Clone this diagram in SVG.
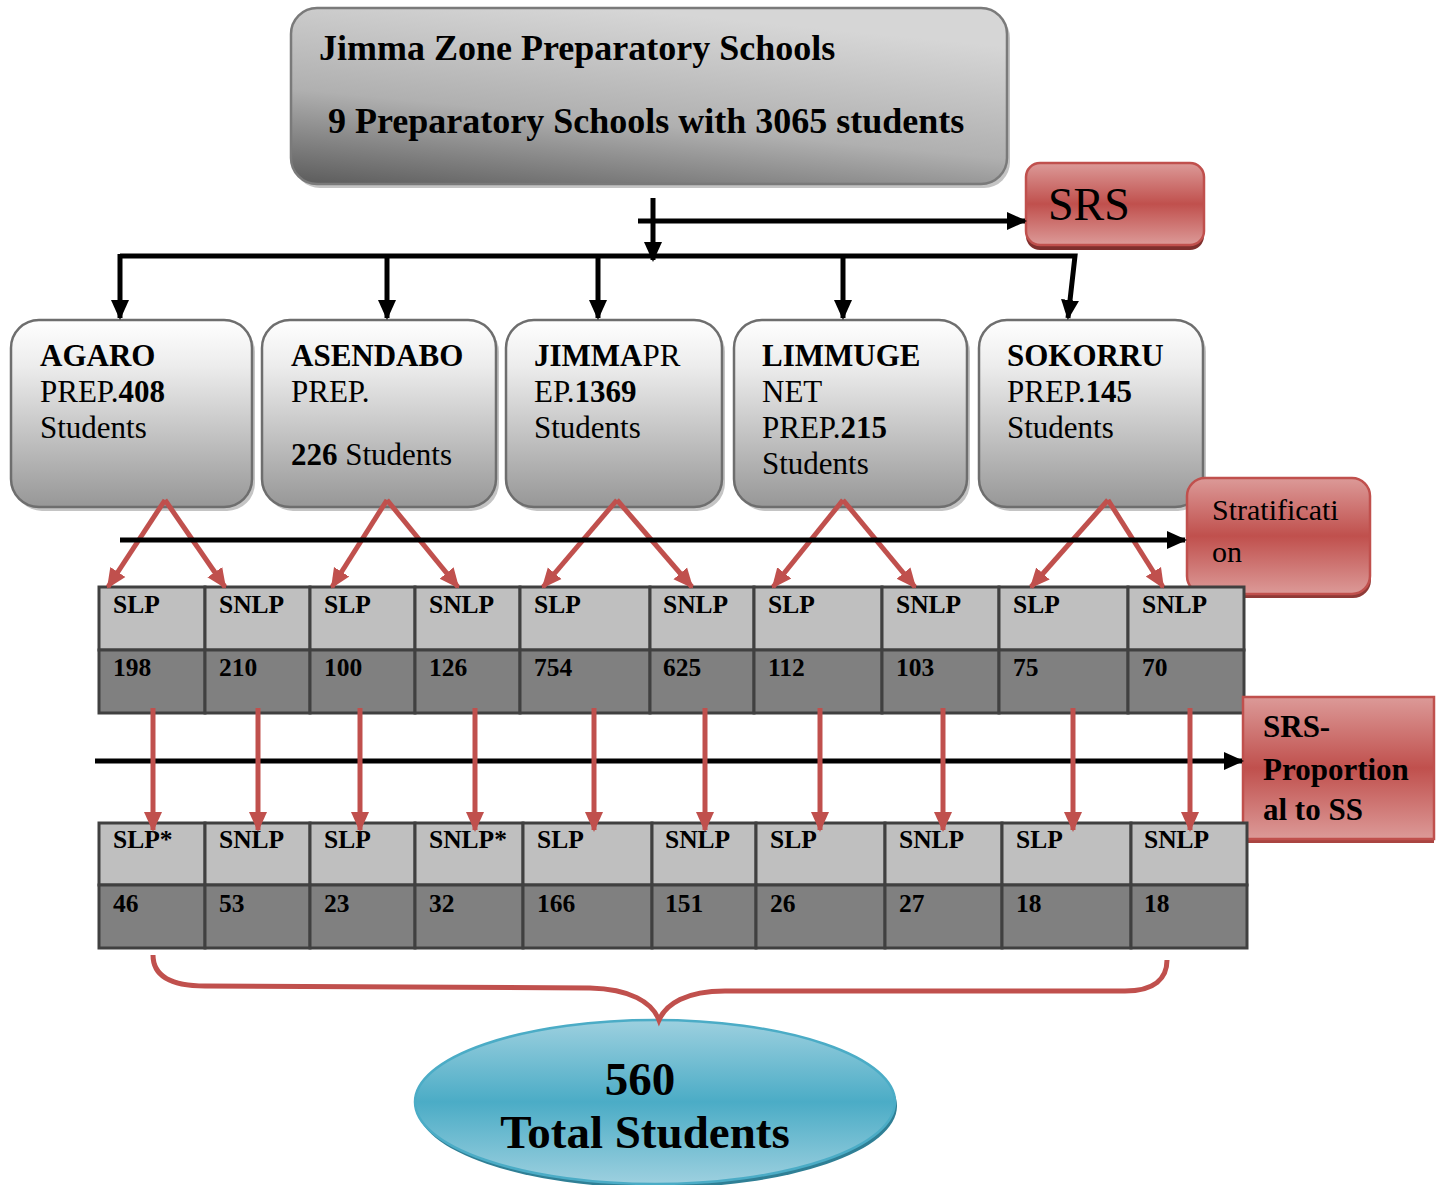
<svg xmlns="http://www.w3.org/2000/svg" width="1442" height="1185" viewBox="0 0 1442 1185">
<defs>
<linearGradient id="gTop" x1="0.05" y1="1" x2="0.45" y2="0">
<stop offset="0" stop-color="#5e5e5e"/>
<stop offset="0.45" stop-color="#b0b0b0"/>
<stop offset="1" stop-color="#d6d6d6"/>
</linearGradient>
<linearGradient id="gSchool" x1="0" y1="0" x2="0" y2="1">
<stop offset="0" stop-color="#ffffff"/>
<stop offset="0.25" stop-color="#ececec"/>
<stop offset="1" stop-color="#979797"/>
</linearGradient>
<linearGradient id="gRed" x1="0" y1="0" x2="0" y2="1">
<stop offset="0" stop-color="#dc9a98"/>
<stop offset="0.5" stop-color="#c0504d"/>
<stop offset="1" stop-color="#dc9a98"/>
</linearGradient>
<linearGradient id="gBlue" x1="0" y1="0" x2="0" y2="1">
<stop offset="0" stop-color="#9dd0df"/>
<stop offset="0.5" stop-color="#4bacc6"/>
<stop offset="1" stop-color="#9dd0df"/>
</linearGradient>
<marker id="aBlack" markerUnits="userSpaceOnUse" markerWidth="20" markerHeight="20" viewBox="0 0 20 20" refX="18" refY="10" orient="auto">
<path d="M0,1 L20,10 L0,19 Z" fill="#000"/>
</marker>
<marker id="aRed" markerUnits="userSpaceOnUse" markerWidth="20" markerHeight="20" viewBox="0 0 20 20" refX="18" refY="10" orient="auto">
<path d="M0,1 L20,10 L0,19 Z" fill="#c0504d"/>
</marker>
<style>
text { font-family: "Liberation Serif", "Times New Roman", serif; fill: #000; }
.b { font-weight: bold; }
.school { fill: url(#gSchool); stroke: #6e6e6e; stroke-width: 2.5; }
.shadowG { fill: #c4c4c4; }
.red { fill: url(#gRed); stroke: #c0504d; stroke-width: 2.5; }
.st { font-size: 31px; }
.blk { stroke: #000; stroke-width: 5; fill: none; }
.rd { stroke: #c0504d; stroke-width: 5; fill: none; }
.c1 { fill: #bfbfbf; stroke: #404040; stroke-width: 3; }
.c2 { fill: #808080; stroke: #404040; stroke-width: 3; }
.tl { font-size: 25.5px; font-weight: bold; }
</style>
</defs>
<rect width="1442" height="1185" fill="#ffffff"/>

<!-- Top node -->
<g id="top">
<rect x="294" y="12" width="716" height="176" rx="26" fill="#c4c4c4"/>
<rect x="291" y="8" width="716" height="176" rx="26" fill="url(#gTop)" stroke="#7a7a7a" stroke-width="2.5"/>
<text class="b" x="319" y="60" font-size="36">Jimma Zone Preparatory Schools</text>
<text class="b" x="328" y="133" font-size="36">9 Preparatory Schools with 3065 students</text>
</g>

<!-- SRS node -->
<g id="srs">
<rect x="1026" y="168" width="178" height="82" rx="14" fill="#7f2f2d"/>
<rect x="1026" y="163" width="178" height="82" rx="14" class="red"/>
<text x="1048" y="220" font-size="46">SRS</text>
</g>

<!-- School nodes -->
<g id="agaro">
<rect x="14" y="324" width="241" height="187" rx="28" class="shadowG"/>
<rect x="11" y="320" width="241" height="187" rx="28" class="school"/>
<text class="st" x="40" y="366"><tspan class="b">AGARO</tspan></text>
<text class="st" x="40" y="402">PREP.<tspan class="b">408</tspan></text>
<text class="st" x="40" y="438">Students</text>
</g>
<g id="asendabo">
<rect x="265" y="324" width="234" height="187" rx="28" class="shadowG"/>
<rect x="262" y="320" width="234" height="187" rx="28" class="school"/>
<text class="st" x="291" y="366"><tspan class="b">ASENDABO</tspan></text>
<text class="st" x="291" y="402">PREP.</text>
<text class="st" x="291" y="465"><tspan class="b">226</tspan> Students</text>
</g>
<g id="jimma">
<rect x="509" y="324" width="216" height="187" rx="28" class="shadowG"/>
<rect x="506" y="320" width="216" height="187" rx="28" class="school"/>
<text class="st" x="534" y="366"><tspan class="b">JIMMA</tspan>PR</text>
<text class="st" x="534" y="402">EP.<tspan class="b">1369</tspan></text>
<text class="st" x="534" y="438">Students</text>
</g>
<g id="limmu">
<rect x="737" y="324" width="233" height="187" rx="28" class="shadowG"/>
<rect x="734" y="320" width="233" height="187" rx="28" class="school"/>
<text class="st" x="762" y="366"><tspan class="b">LIMMUGE</tspan></text>
<text class="st" x="762" y="402">NET</text>
<text class="st" x="762" y="438">PREP.<tspan class="b">215</tspan></text>
<text class="st" x="762" y="474">Students</text>
</g>
<g id="sokorru">
<rect x="982" y="324" width="224" height="187" rx="28" class="shadowG"/>
<rect x="979" y="320" width="224" height="187" rx="28" class="school"/>
<text class="st" x="1007" y="366"><tspan class="b">SOKORRU</tspan></text>
<text class="st" x="1007" y="402">PREP.<tspan class="b">145</tspan></text>
<text class="st" x="1007" y="438">Students</text>
</g>

<!-- Stratification node -->
<g id="stratification">
<rect x="1188" y="482" width="183" height="116" rx="18" fill="#8f3a37"/>
<rect x="1187" y="478" width="183" height="116" rx="18" class="red"/>
<text x="1212" y="520" font-size="30">Stratificati</text>
<text x="1212" y="562" font-size="30">on</text>
</g>

<!-- Table 1 -->
<g id="table1">
<rect x="99" y="587" width="106" height="63" class="c1"/>
<rect x="205" y="587" width="105" height="63" class="c1"/>
<rect x="310" y="587" width="105" height="63" class="c1"/>
<rect x="415" y="587" width="105" height="63" class="c1"/>
<rect x="520" y="587" width="130" height="63" class="c1"/>
<rect x="650" y="587" width="104" height="63" class="c1"/>
<rect x="754" y="587" width="128" height="63" class="c1"/>
<rect x="882" y="587" width="117" height="63" class="c1"/>
<rect x="999" y="587" width="129" height="63" class="c1"/>
<rect x="1128" y="587" width="116" height="63" class="c1"/>
<rect x="99" y="650" width="106" height="63" class="c2"/>
<rect x="205" y="650" width="105" height="63" class="c2"/>
<rect x="310" y="650" width="105" height="63" class="c2"/>
<rect x="415" y="650" width="105" height="63" class="c2"/>
<rect x="520" y="650" width="130" height="63" class="c2"/>
<rect x="650" y="650" width="104" height="63" class="c2"/>
<rect x="754" y="650" width="128" height="63" class="c2"/>
<rect x="882" y="650" width="117" height="63" class="c2"/>
<rect x="999" y="650" width="129" height="63" class="c2"/>
<rect x="1128" y="650" width="116" height="63" class="c2"/>
<text class="tl" x="113" y="613">SLP</text>
<text class="tl" x="219" y="613">SNLP</text>
<text class="tl" x="324" y="613">SLP</text>
<text class="tl" x="429" y="613">SNLP</text>
<text class="tl" x="534" y="613">SLP</text>
<text class="tl" x="663" y="613">SNLP</text>
<text class="tl" x="768" y="613">SLP</text>
<text class="tl" x="896" y="613">SNLP</text>
<text class="tl" x="1013" y="613">SLP</text>
<text class="tl" x="1142" y="613">SNLP</text>
<text class="tl" x="113" y="676">198</text>
<text class="tl" x="219" y="676">210</text>
<text class="tl" x="324" y="676">100</text>
<text class="tl" x="429" y="676">126</text>
<text class="tl" x="534" y="676">754</text>
<text class="tl" x="663" y="676">625</text>
<text class="tl" x="768" y="676">112</text>
<text class="tl" x="896" y="676">103</text>
<text class="tl" x="1013" y="676">75</text>
<text class="tl" x="1142" y="676">70</text>
</g>

<!-- SRS-Proportion node -->
<g id="srsprop">
<rect x="1243" y="697" width="191" height="146" fill="#a94441"/>
<rect x="1243" y="697" width="191" height="142" class="red"/>
<text class="b" x="1263" y="737" font-size="31">SRS-</text>
<text class="b" x="1263" y="780" font-size="31">Proportion</text>
<text class="b" x="1263" y="820" font-size="31">al to SS</text>
</g>

<!-- Table 2 -->
<g id="table2">
<rect x="99" y="823" width="106" height="62" class="c1"/>
<rect x="205" y="823" width="105" height="62" class="c1"/>
<rect x="310" y="823" width="105" height="62" class="c1"/>
<rect x="415" y="823" width="108" height="62" class="c1"/>
<rect x="523" y="823" width="129" height="62" class="c1"/>
<rect x="652" y="823" width="104" height="62" class="c1"/>
<rect x="756" y="823" width="129" height="62" class="c1"/>
<rect x="885" y="823" width="117" height="62" class="c1"/>
<rect x="1002" y="823" width="129" height="62" class="c1"/>
<rect x="1131" y="823" width="116" height="62" class="c1"/>
<rect x="99" y="885" width="106" height="63" class="c2"/>
<rect x="205" y="885" width="105" height="63" class="c2"/>
<rect x="310" y="885" width="105" height="63" class="c2"/>
<rect x="415" y="885" width="108" height="63" class="c2"/>
<rect x="523" y="885" width="129" height="63" class="c2"/>
<rect x="652" y="885" width="104" height="63" class="c2"/>
<rect x="756" y="885" width="129" height="63" class="c2"/>
<rect x="885" y="885" width="117" height="63" class="c2"/>
<rect x="1002" y="885" width="129" height="63" class="c2"/>
<rect x="1131" y="885" width="116" height="63" class="c2"/>
<text class="tl" x="113" y="848">SLP*</text>
<text class="tl" x="219" y="848">SNLP</text>
<text class="tl" x="324" y="848">SLP</text>
<text class="tl" x="429" y="848">SNLP*</text>
<text class="tl" x="537" y="848">SLP</text>
<text class="tl" x="665" y="848">SNLP</text>
<text class="tl" x="770" y="848">SLP</text>
<text class="tl" x="899" y="848">SNLP</text>
<text class="tl" x="1016" y="848">SLP</text>
<text class="tl" x="1144" y="848">SNLP</text>
<text class="tl" x="113" y="912">46</text>
<text class="tl" x="219" y="912">53</text>
<text class="tl" x="324" y="912">23</text>
<text class="tl" x="429" y="912">32</text>
<text class="tl" x="537" y="912">166</text>
<text class="tl" x="665" y="912">151</text>
<text class="tl" x="770" y="912">26</text>
<text class="tl" x="899" y="912">27</text>
<text class="tl" x="1016" y="912">18</text>
<text class="tl" x="1144" y="912">18</text>
</g>

<!-- Total node -->
<g id="total">
<ellipse cx="657" cy="1106" rx="240" ry="82" fill="#2f7f95"/>
<ellipse cx="655" cy="1102" rx="240" ry="82" fill="url(#gBlue)" stroke="#4bacc6" stroke-width="2.5"/>
<text class="b" x="640" y="1095" font-size="47" text-anchor="middle">560</text>
<text class="b" x="645" y="1148" font-size="47" text-anchor="middle">Total Students</text>
</g>

<!-- Connectors -->
<g id="connectors">
<line class="blk" x1="653" y1="198" x2="653" y2="260" marker-end="url(#aBlack)"/>
<line class="blk" x1="638" y1="221" x2="1025" y2="221" marker-end="url(#aBlack)"/>
<polyline class="blk" points="120,256 1075,256 1068,318" marker-end="url(#aBlack)"/>
<line class="blk" x1="120" y1="254" x2="120" y2="318" marker-end="url(#aBlack)"/>
<line class="blk" x1="387" y1="256" x2="387" y2="318" marker-end="url(#aBlack)"/>
<line class="blk" x1="598" y1="256" x2="598" y2="318" marker-end="url(#aBlack)"/>
<line class="blk" x1="843" y1="256" x2="843" y2="318" marker-end="url(#aBlack)"/>

<path class="rd" d="M165,500 L108,587" marker-end="url(#aRed)"/>
<path class="rd" d="M165,500 L225,587" marker-end="url(#aRed)"/>
<path class="rd" d="M387,500 L332,587" marker-end="url(#aRed)"/>
<path class="rd" d="M387,500 L458,587" marker-end="url(#aRed)"/>
<path class="rd" d="M617,500 L543,587" marker-end="url(#aRed)"/>
<path class="rd" d="M617,500 L692,587" marker-end="url(#aRed)"/>
<path class="rd" d="M843,500 L773,587" marker-end="url(#aRed)"/>
<path class="rd" d="M843,500 L915,587" marker-end="url(#aRed)"/>
<path class="rd" d="M1108,500 L1031,587" marker-end="url(#aRed)"/>
<path class="rd" d="M1108,500 L1163,587" marker-end="url(#aRed)"/>

<line class="blk" x1="120" y1="540" x2="1185" y2="540" marker-end="url(#aBlack)"/>
<line class="blk" x1="95" y1="761" x2="1242" y2="761" marker-end="url(#aBlack)"/>

<line class="rd" x1="153" y1="708" x2="153" y2="830" marker-end="url(#aRed)"/>
<line class="rd" x1="258" y1="708" x2="258" y2="830" marker-end="url(#aRed)"/>
<line class="rd" x1="360" y1="708" x2="360" y2="830" marker-end="url(#aRed)"/>
<line class="rd" x1="475" y1="708" x2="475" y2="830" marker-end="url(#aRed)"/>
<line class="rd" x1="594" y1="708" x2="594" y2="830" marker-end="url(#aRed)"/>
<line class="rd" x1="705" y1="708" x2="705" y2="830" marker-end="url(#aRed)"/>
<line class="rd" x1="820" y1="708" x2="820" y2="830" marker-end="url(#aRed)"/>
<line class="rd" x1="943" y1="708" x2="943" y2="830" marker-end="url(#aRed)"/>
<line class="rd" x1="1073" y1="708" x2="1073" y2="830" marker-end="url(#aRed)"/>
<line class="rd" x1="1190" y1="708" x2="1190" y2="830" marker-end="url(#aRed)"/>

<path class="rd" d="M153,955 C153,976 170,986 205,986 L590,988 C630,989 652,1002 659,1020 C666,1004 686,991 725,991 L1125,991 C1155,991 1167,978 1167,960"/>
</g>
</svg>
